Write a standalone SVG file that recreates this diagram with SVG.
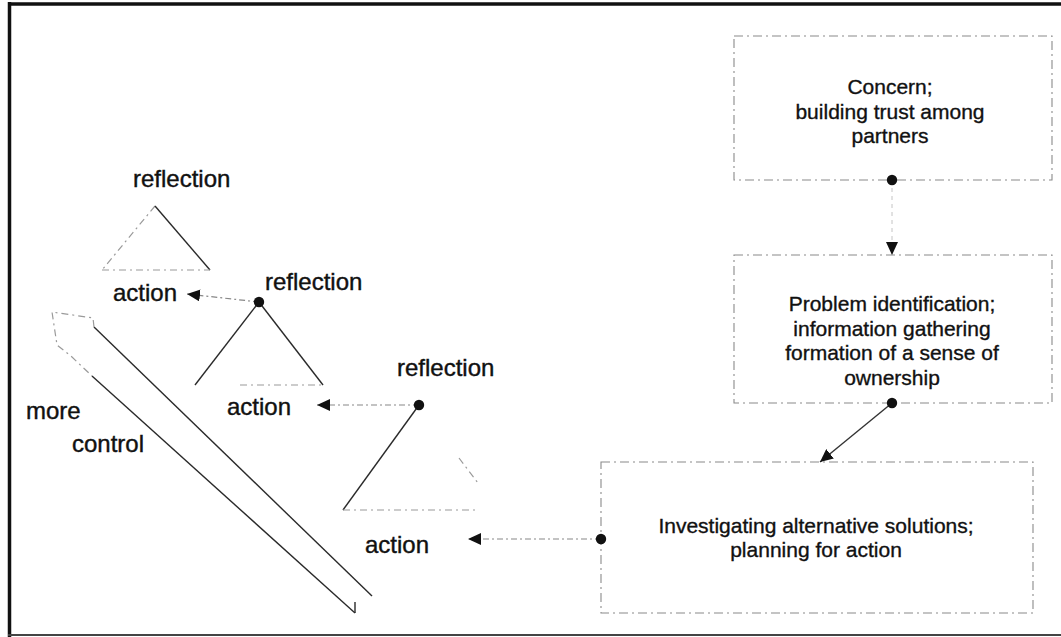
<svg xmlns="http://www.w3.org/2000/svg" width="1061" height="637" viewBox="0 0 1061 637">
  <defs>
    <marker id="head" viewBox="0 0 13 12" refX="13" refY="6" markerWidth="13" markerHeight="12" markerUnits="userSpaceOnUse" orient="auto">
      <path d="M0,0 L13,6 L0,12 z" fill="#111"/>
    </marker>
    <style>
      .frame { stroke: #111; fill: none; }
      .box { fill: none; stroke: #8a8a8a; stroke-width: 1.1; stroke-dasharray: 9 4 2 4; }
      .label { font-family: "Liberation Sans", Arial, sans-serif; font-size: 21px; fill: #111; stroke: #111; stroke-width: 0.35; text-anchor: middle; }
      .cyc { font-family: "Liberation Sans", Arial, sans-serif; font-size: 24px; fill: #111; stroke: #111; stroke-width: 0.4; }
      .solid { stroke: #2a2a2a; stroke-width: 1.4; fill: none; }
      .faint { stroke: #9a9a9a; stroke-width: 1.2; fill: none; stroke-dasharray: 7 4 2 4; }
      .dot { fill: #111; }
      .link { stroke: #888; stroke-width: 1.2; fill: none; stroke-dasharray: 6 3 2 3; marker-end: url(#head); }
      .link-pale { stroke: #c4c4c4; stroke-width: 1; fill: none; stroke-dasharray: 4 4; marker-end: url(#head); }
      .link-solid { stroke: #333; stroke-width: 1.4; fill: none; marker-end: url(#head); }
    </style>
  </defs>

  <rect width="1061" height="637" fill="#fff"/>

  <!-- outer frame -->
  <g id="frame">
    <line class="frame" x1="8" y1="4" x2="1061" y2="4" stroke-width="3.5"/>
    <line class="frame" x1="9.5" y1="2" x2="9.5" y2="637" stroke-width="3.5"/>
    <line x1="8" y1="635" x2="1061" y2="635" stroke="#444" stroke-width="2"/>
  </g>

  <!-- process boxes -->
  <g id="concern">
    <rect class="box" x="734" y="36" width="318" height="144"/>
    <text class="label" x="890" y="94">Concern;</text>
    <text class="label" x="890" y="119">building trust among</text>
    <text class="label" x="890" y="143">partners</text>
  </g>

  <g id="problem">
    <rect class="box" x="734" y="255" width="318" height="148"/>
    <text class="label" x="892" y="311">Problem identification;</text>
    <text class="label" x="892" y="336">information gathering</text>
    <text class="label" x="892" y="360">formation of a sense of</text>
    <text class="label" x="892" y="385">ownership</text>
  </g>

  <g id="investigating">
    <rect class="box" x="601" y="462" width="432" height="151"/>
    <text class="label" x="816" y="533">Investigating alternative solutions;</text>
    <text class="label" x="816" y="557">planning for action</text>
  </g>

  <!-- action / reflection cycles -->
  <g id="cycle-1">
    <line class="faint" x1="155" y1="206" x2="102" y2="270"/>
    <line class="solid" x1="155" y1="206" x2="210" y2="270"/>
    <line class="faint" x1="102" y1="270" x2="210" y2="270"/>
    <text class="cyc" x="133" y="187">reflection</text>
    <text class="cyc" x="113" y="301">action</text>
  </g>

  <g id="cycle-2">
    <line class="solid" x1="259" y1="302" x2="195" y2="385"/>
    <line class="solid" x1="259" y1="302" x2="323" y2="385"/>
    <line class="faint" x1="240" y1="385" x2="323" y2="385"/>
    <text class="cyc" x="265" y="290">reflection</text>
    <text class="cyc" x="227" y="415">action</text>
  </g>

  <g id="cycle-3">
    <line class="solid" x1="419" y1="405" x2="343" y2="510"/>
    <line class="faint" x1="459" y1="458" x2="478" y2="483"/>
    <line class="faint" x1="343" y1="510" x2="477" y2="510"/>
    <text class="cyc" x="397" y="376">reflection</text>
    <text class="cyc" x="365" y="553">action</text>
  </g>

  <!-- hollow arrow: more control -->
  <g id="more-control">
    <line class="solid" x1="94" y1="327" x2="372" y2="596"/>
    <line class="solid" x1="92" y1="376" x2="355" y2="613"/>
    <line class="solid" x1="355" y1="602" x2="355" y2="613"/>
    <polyline class="faint" points="94,327 93,318 52,312 57,345 72,357 92,376"/>
    <text class="cyc" x="26" y="419">more</text>
    <text class="cyc" x="72" y="452">control</text>
  </g>

  <!-- connectors -->
  <g id="connectors">
    <line class="link-pale" x1="892" y1="180" x2="892" y2="255"/>
    <line class="link-solid" x1="892" y1="403" x2="820" y2="462"/>
    <line class="link" x1="601" y1="539" x2="468" y2="539"/>
    <line class="link" x1="419" y1="405" x2="317" y2="405"/>
    <line class="link" x1="259" y1="302" x2="187" y2="294"/>
    <circle class="dot" cx="892" cy="180" r="5.2"/>
    <circle class="dot" cx="892" cy="403" r="5.2"/>
    <circle class="dot" cx="601" cy="539" r="5.2"/>
    <circle class="dot" cx="419" cy="405" r="5.2"/>
    <circle class="dot" cx="259" cy="302" r="5.2"/>
  </g>
</svg>
